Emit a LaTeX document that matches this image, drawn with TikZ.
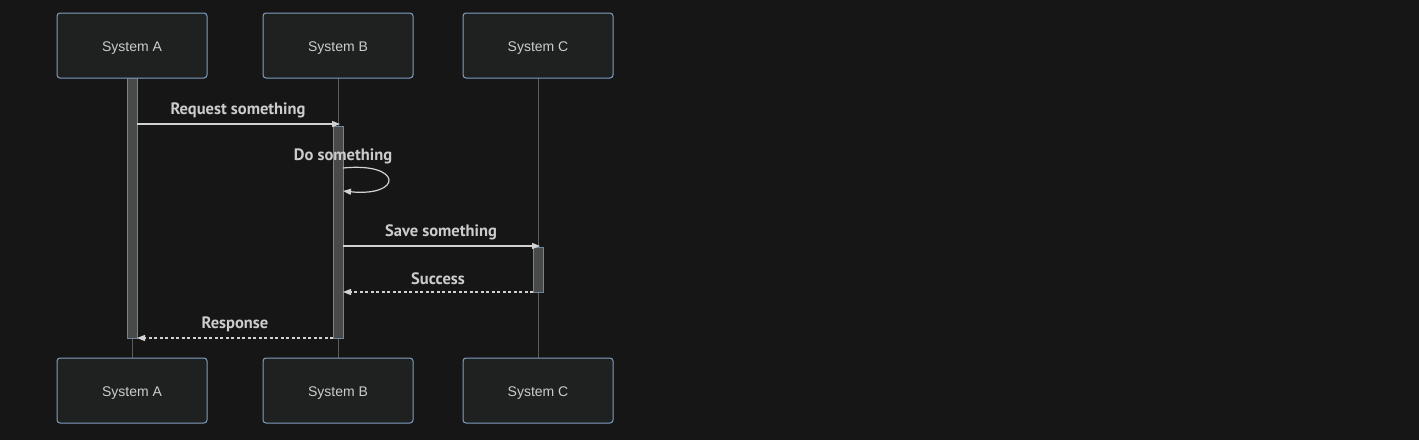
\documentclass[tikz,border=0pt]{standalone}
\usepackage{fontspec}
\setmainfont{Liberation Sans}
\newfontfamily\msgfont{PT Sans}
\usetikzlibrary{arrows.meta, positioning}

\definecolor{bgdark}{HTML}{161616}
\definecolor{actorfill}{HTML}{1F2121}
\definecolor{actorline}{HTML}{7F9FC0}
\definecolor{actfill}{HTML}{484A4A}
\definecolor{lifegrey}{HTML}{5C5C5C}
\definecolor{txtgrey}{HTML}{CCCCCC}
\definecolor{msggrey}{HTML}{D2D2D2}

\begin{document}
\begin{tikzpicture}[x=1pt, y=-1pt,
    actor/.style={draw=actorline, fill=actorfill, line width=1pt, rounded corners=3pt,
      minimum width=150pt, minimum height=65pt, inner sep=0pt,
      text height=11pt, text depth=0pt,
      text=txtgrey, font=\fontsize{14}{16}\selectfont},
    activ/.style={draw=actorline!70!actfill, fill=actfill, line width=0.8pt,
      minimum width=10pt, inner sep=0pt},
    life/.style={draw=lifegrey, line width=1pt},
    msg/.style={draw=msggrey, line width=1.2pt, -{Triangle[length=8pt, width=6pt]}},
    reply/.style={msg, dash pattern=on 3pt off 2.5pt},
    msglabel/.style={text=txtgrey, font=\msgfont\bfseries\fontsize{16.5}{18}\selectfont}]
    % Background
    \fill[bgdark] (0,0) rectangle (1419,440);
    \useasboundingbox (0,0) rectangle (1419,440);
    % Lifelines
    \draw[life] (132,78) -- (132,358);
    \draw[life] (338,78) -- (338,358);
    \draw[life] (538,78) -- (538,358);
    % Actors top
    \node[actor] (topA) at (132,45.5) {System A};
    \node[actor] (topB) at (338,45.5) {System B};
    \node[actor] (topC) at (538,45.5) {System C};
    % Actors bottom
    \node[actor] (botA) at (132,390.5) {System A};
    \node[actor] (botB) at (338,390.5) {System B};
    \node[actor] (botC) at (538,390.5) {System C};
    % Activations
    \node[activ, minimum height=260pt] (actA) at (132,208) {};
    \node[activ, minimum height=212pt] (actB) at (338,232) {};
    \node[activ, minimum height=45pt] (actC) at (538,269.5) {};
    % Message points
    \coordinate (reqS) at (137,124);
    \coordinate (reqE) at (340,124);
    \coordinate (loopS) at (343,168);
    \coordinate (loopE) at (343,191);
    \coordinate (saveS) at (343,246);
    \coordinate (saveE) at (540,246);
    \coordinate (sucS) at (533,292);
    \coordinate (sucE) at (343,292);
    \coordinate (resS) at (333,338);
    \coordinate (resE) at (137,338);
    % Messages
    \draw[msg] (reqS) -- (reqE);
    \node[msglabel] (reqL) at (238,110.5) {Request something};
    \draw[msg] (loopS) .. controls (403,162) and (403,197) .. (loopE);
    \node[msglabel] (loopL) at (343,156.5) {Do something};
    \draw[msg] (saveS) -- (saveE);
    \node[msglabel] (saveL) at (441,232.5) {Save something};
    \draw[reply] (sucS) -- (sucE);
    \node[msglabel] (sucL) at (438,278.5) {Success};
    \draw[reply] (resS) -- (resE);
    \node[msglabel] (resL) at (235,324.5) {Response};
\end{tikzpicture}
\end{document}
